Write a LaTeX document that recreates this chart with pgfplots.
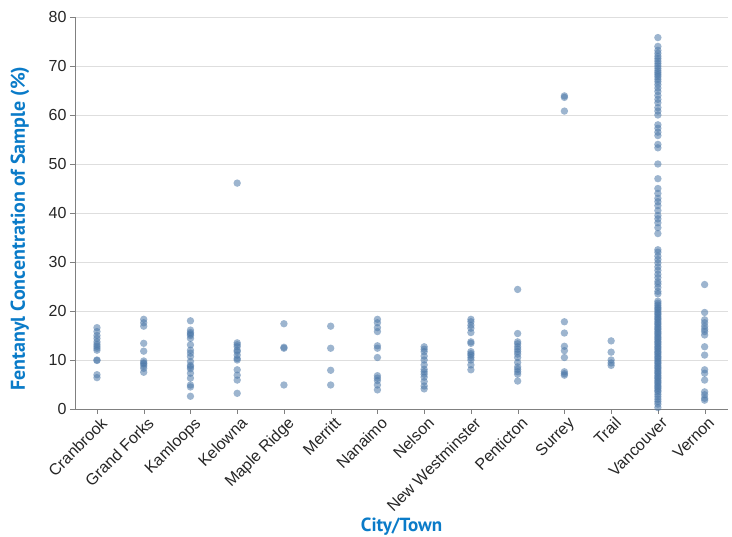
\documentclass[border=0pt]{standalone}
\usepackage{pgfplots}
\pgfplotsset{compat=1.18}
\usepackage{fontspec}
\setmainfont{Liberation Sans}
\newfontfamily\titlefont{PT Sans}
\definecolor{pt}{HTML}{4C78A8}
\definecolor{tt}{HTML}{0A7BC8}
\pgfplotsset{pts/.style={only marks, mark=*, mark size=3.7pt, color=pt, mark options={draw opacity=0, fill=pt, fill opacity=0.55}}}
\begin{document}
\begin{tikzpicture}
\path[use as bounding box] (-75pt,-128pt) rectangle (657pt,409pt);
\begin{axis}[
 at={(0,0)}, anchor=south west,
 scale only axis, width=653pt, height=392pt,
 xmin=-0.47, xmax=13.5, ymin=0, ymax=80,
 axis x line*=bottom, axis y line*=left,
 axis line style={draw=black!50, -},
 xtick={0,...,13},
 xticklabels={Cranbrook,Grand Forks,Kamloops,Kelowna,Maple Ridge,Merritt,Nanaimo,Nelson,New Westminster,Penticton,Surrey,Trail,Vancouver,Vernon},
 ytick={0,10,...,80},
 ymajorgrids, grid style={black!13},
 tick style={black!50}, major tick length=5pt, tick align=outside,
 xticklabel style={rotate=45, anchor=north east, xshift=4pt, font=\fontsize{16}{19}\selectfont, text=black!85},
 yticklabel style={font=\fontsize{16}{19}\selectfont, text=black!85},
 /pgf/number format/assume math mode=true,
 xlabel={City/Town}, ylabel={Fentanyl Concentration of Sample (\%)},
 label style={text=tt},
 xlabel style={font=\titlefont\bfseries\fontsize{19}{22}\selectfont, at={(axis description cs:0.5,-0.301)}, anchor=center},
 ylabel style={font=\titlefont\bfseries\fontsize{20}{24}\selectfont, at={(axis description cs:-0.0842,0.46)}, anchor=center},
 clip=false,
]
\addplot[pts] coordinates {(0,16.6)(0,15.8)(0,15.0)(0,14.4)(0,13.7)(0,13.2)(0,12.8)(0,12.4)(0,12.0)(0,10.0)(0,9.9)(0,7.0)(0,6.4)};
\addplot[pts] coordinates {(1,18.3)(1,17.6)(1,16.9)(1,13.4)(1,11.8)(1,9.8)(1,9.4)(1,9.2)(1,8.8)(1,8.3)(1,7.5)};
\addplot[pts] coordinates {(2,18.0)(2,16.1)(2,15.6)(2,15.3)(2,15.0)(2,14.4)(2,13.1)(2,12.0)(2,11.4)(2,10.7)(2,9.7)(2,8.9)(2,8.6)(2,8.2)(2,7.3)(2,6.3)(2,4.9)(2,4.5)(2,2.6)};
\addplot[pts] coordinates {(3,46.1)(3,13.5)(3,13.1)(3,12.7)(3,12.0)(3,11.7)(3,11.0)(3,10.3)(3,10.0)(3,8.0)(3,6.9)(3,5.9)(3,3.2)};
\addplot[pts] coordinates {(4,17.4)(4,12.6)(4,12.4)(4,4.9)};
\addplot[pts] coordinates {(5,16.9)(5,12.4)(5,7.9)(5,4.9)};
\addplot[pts] coordinates {(6,18.3)(6,17.6)(6,16.6)(6,15.8)(6,12.9)(6,12.4)(6,10.5)(6,6.8)(6,6.3)(6,5.8)(6,4.9)(6,3.9)};
\addplot[pts] coordinates {(7,12.7)(7,12.2)(7,11.7)(7,10.8)(7,10.0)(7,9.0)(7,8.1)(7,7.6)(7,7.1)(7,6.5)(7,5.6)(7,4.7)(7,4.1)};
\addplot[pts] coordinates {(8,18.3)(8,17.8)(8,17.1)(8,16.5)(8,15.6)(8,13.7)(8,13.4)(8,11.7)(8,11.3)(8,11.0)(8,10.5)(8,10.0)(8,9.0)(8,8.0)};
\addplot[pts] coordinates {(9,24.4)(9,15.4)(9,13.7)(9,13.3)(9,12.7)(9,12.2)(9,11.7)(9,11.2)(9,10.5)(9,9.5)(9,8.6)(9,8.1)(9,7.6)(9,7.1)(9,5.7)};
\addplot[pts] coordinates {(10,63.9)(10,63.6)(10,60.8)(10,17.8)(10,15.5)(10,12.8)(10,11.9)(10,10.5)(10,7.6)(10,7.2)(10,6.9)};
\addplot[pts] coordinates {(11,13.9)(11,11.6)(11,10.0)(11,9.4)(11,8.9)};
\addplot[pts] coordinates {
(12,75.8)(12,74.0)(12,73.2)(12,72.6)(12,72.0)(12,71.5)(12,71.0)(12,70.5)(12,70.0)(12,69.5)
(12,69.0)(12,68.6)(12,68.2)(12,67.8)(12,67.3)(12,66.8)(12,66.2)(12,65.5)(12,64.8)(12,64.0)
(12,63.2)(12,62.5)(12,61.5)(12,60.8)(12,60.0)(12,58.0)(12,57.3)(12,56.5)(12,55.8)(12,54.0)
(12,53.3)(12,50.0)(12,47.0)(12,45.0)(12,44.0)(12,43.0)(12,42.3)(12,41.5)(12,40.5)(12,39.5)
(12,38.8)(12,38.0)(12,37.0)(12,35.8)(12,32.5)(12,32.0)(12,31.2)(12,30.5)(12,29.8)(12,29.0)
(12,28.3)(12,27.5)(12,26.8)(12,26.0)(12,25.5)(12,24.8)(12,24.0)(12,23.5)
(12,22.0)(12,21.6)(12,21.2)(12,20.8)(12,20.5)(12,20.2)(12,19.8)(12,19.5)(12,19.2)(12,18.8)
(12,18.5)(12,18.2)(12,17.8)(12,17.5)(12,17.2)(12,16.8)(12,16.5)(12,16.2)(12,15.8)(12,15.5)
(12,15.2)(12,14.8)(12,14.5)(12,14.2)(12,13.8)(12,13.5)(12,13.2)(12,12.8)(12,12.5)(12,12.2)
(12,11.8)(12,11.5)(12,11.2)(12,10.8)(12,10.5)(12,10.2)(12,9.8)(12,9.5)(12,9.2)(12,8.8)
(12,8.5)(12,8.2)(12,7.8)(12,7.5)(12,7.2)(12,6.8)(12,6.5)(12,6.2)(12,5.8)(12,5.5)
(12,5.2)(12,4.8)(12,4.5)(12,4.2)(12,3.8)(12,3.5)(12,3.0)(12,2.5)(12,2.0)(12,1.5)(12,1.0)(12,0.3)};
\addplot[pts] coordinates {(13,25.4)(13,19.7)(13,18.2)(13,17.6)(13,16.9)(13,16.3)(13,15.8)(13,15.1)(13,12.7)(13,11.0)(13,8.0)(13,7.3)(13,5.9)(13,3.5)(13,2.9)(13,2.2)(13,1.8)};
\end{axis}
\end{tikzpicture}
\end{document}
